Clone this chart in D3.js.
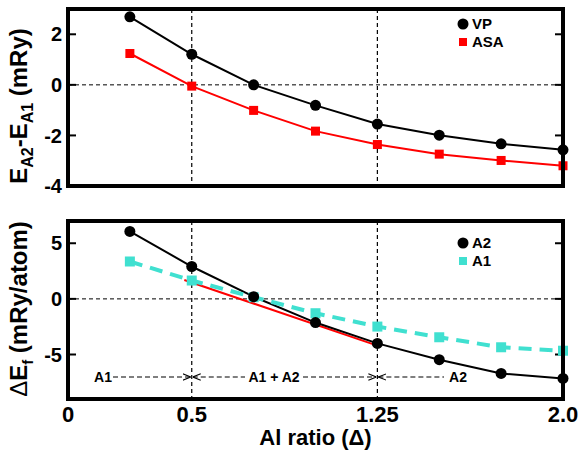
<!DOCTYPE html>
<html><head><meta charset="utf-8">
<script src="https://cdn.jsdelivr.net/npm/d3@7"></script>
<style>body{margin:0;background:#fff}svg{font-family:"Liberation Sans",Arial,sans-serif;font-weight:bold}</style>
</head><body><svg id="c" width="581" height="450"></svg>
<script>
const xs = [0.25,0.5,0.75,1.0,1.25,1.5,1.75,2.0];
const vp  = [2.69,1.21,0.0,-0.81,-1.55,-1.99,-2.33,-2.57];
const asa = [1.24,-0.05,-1.01,-1.83,-2.36,-2.74,-2.99,-3.2];
const a2  = [6.06,2.91,0.2,-2.13,-4.0,-5.47,-6.7,-7.15];
const a1  = [3.36,1.65,0.15,-1.29,-2.49,-3.45,-4.35,-4.66];
const mixX = [0.47,1.25];
const mixY = [1.7,-4.2];
const xTicks = [0,0.5,1.25,2.0];
const xTickLabels = ["0","0.5","1.25","2.0"];
const topTicks = [-4,-2,0,2];
const botTicks = [-5,0,5];
const vlines = [0.5,1.25];

const svg = d3.select("#c");
const x = d3.scaleLinear().domain([0,2]).range([68,563]);
const yT = d3.scaleLinear().domain([-4,3]).range([186,9]);
const yB = d3.scaleLinear().domain([-9,7]).range([399,221]);
const cyan = "#40e0d0";

function panel(y, ticks){
  const g = svg.append("g");
  const [y0,y1] = y.range();
  g.append("line").attr("x1",x(0)).attr("x2",x(2)).attr("y1",y(0)).attr("y2",y(0))
   .attr("stroke","#000").attr("stroke-width",1).attr("stroke-dasharray","4,3");
  vlines.forEach(v=>g.append("line").attr("x1",x(v)).attr("x2",x(v)).attr("y1",y1).attr("y2",y0)
   .attr("stroke","#000").attr("stroke-width",1.2).attr("stroke-dasharray","4,3"));
  ticks.forEach(t=>{
    g.append("line").attr("x1",x(0)).attr("x2",x(0)+8).attr("y1",y(t)).attr("y2",y(t)).attr("stroke","#000").attr("stroke-width",2);
    g.append("line").attr("x1",x(2)).attr("x2",x(2)-8).attr("y1",y(t)).attr("y2",y(t)).attr("stroke","#000").attr("stroke-width",2);
    g.append("text").attr("x",x(0)-6).attr("y",y(t)).attr("dy","0.36em").attr("text-anchor","end")
     .attr("font-size",20).text(t);
  });
  return g;
}
function frame(y){
  const [y0,y1] = y.range();
  svg.append("rect").attr("x",x(0)).attr("y",y1).attr("width",x(2)-x(0)).attr("height",y0-y1)
   .attr("fill","none").attr("stroke","#000").attr("stroke-width",4);
}

// top panel
const gt = panel(yT, topTicks);
const lineT = d3.line().x((d,i)=>x(xs[i])).y(d=>yT(d));
gt.append("path").attr("d",lineT(vp)).attr("fill","none").attr("stroke","#000").attr("stroke-width",2);
gt.append("path").attr("d",lineT(asa)).attr("fill","none").attr("stroke","#f00").attr("stroke-width",2);
gt.selectAll(".vp").data(vp).join("circle").attr("cx",(d,i)=>x(xs[i])).attr("cy",d=>yT(d)).attr("r",5.5).attr("fill","#000");
gt.selectAll(".asa").data(asa).join("rect").attr("x",(d,i)=>x(xs[i])-4.5).attr("y",d=>yT(d)-4.5).attr("width",9).attr("height",9).attr("fill","#f00");
frame(yT);
svg.append("circle").attr("cx",463).attr("cy",24).attr("r",5.5).attr("fill","#000");
svg.append("text").attr("x",472).attr("y",24).attr("dy","0.36em").attr("font-size",15).text("VP");
svg.append("rect").attr("x",459).attr("y",38).attr("width",8).attr("height",8).attr("fill","#f00");
svg.append("text").attr("x",472).attr("y",42).attr("dy","0.36em").attr("font-size",15).text("ASA");

// bottom panel
const gb = panel(yB, botTicks);
const lineB = d3.line().x((d,i)=>x(xs[i])).y(d=>yB(d));
gb.append("path").attr("d",d3.line().x((d,i)=>x(mixX[i])).y(d=>yB(d))(mixY)).attr("fill","none").attr("stroke","#f00").attr("stroke-width",2);
gb.append("path").attr("d",lineB(a2)).attr("fill","none").attr("stroke","#000").attr("stroke-width",2);
gb.append("path").attr("d",lineB(a1)).attr("fill","none").attr("stroke",cyan).attr("stroke-width",4).attr("stroke-dasharray","13,8");
gb.selectAll(".a1").data(a1).join("rect").attr("x",(d,i)=>x(xs[i])-5).attr("y",d=>yB(d)-5).attr("width",10).attr("height",10).attr("fill",cyan);
gb.selectAll(".a2").data(a2).join("circle").attr("cx",(d,i)=>x(xs[i])).attr("cy",d=>yB(d)).attr("r",5.5).attr("fill","#000");
frame(yB);
svg.append("circle").attr("cx",463).attr("cy",243).attr("r",5.5).attr("fill","#000");
svg.append("text").attr("x",472).attr("y",243).attr("dy","0.36em").attr("font-size",15).text("A2");
svg.append("rect").attr("x",459).attr("y",257).attr("width",8).attr("height",8).attr("fill",cyan);
svg.append("text").attr("x",472).attr("y",261).attr("dy","0.36em").attr("font-size",15).text("A1");

// phase annotations
const ay = 377;
svg.append("defs").html('<marker id="ar" viewBox="0 0 10 10" refX="10" refY="5" markerWidth="8" markerHeight="8" orient="auto-start-reverse" markerUnits="userSpaceOnUse"><path d="M0,1 L10,5 L0,9" fill="none" stroke="#000" stroke-width="1.3"/></marker>');
function dline(x1,x2,start,end){
  const l = svg.append("line").attr("x1",x1).attr("x2",x2).attr("y1",ay).attr("y2",ay)
    .attr("stroke","#000").attr("stroke-width",1.2).attr("stroke-dasharray","5,3");
  if(start) l.attr("marker-start","url(#ar)");
  if(end) l.attr("marker-end","url(#ar)");
}
function alabel(xp,t){svg.append("text").attr("x",xp).attr("y",ay).attr("dy","0.36em").attr("text-anchor","middle").attr("font-size",14).text(t);}
alabel(103,"A1"); dline(113,x(0.5)-1,false,true);
dline(x(0.5)+1,245,true,false); alabel(274,"A1 + A2"); dline(303,x(1.25)-1,false,true);
dline(x(1.25)+1,444,true,false); alabel(458,"A2");

// x axis labels
xTicks.forEach((t,i)=>svg.append("text").attr("x",x(t)).attr("y",414).attr("dy","0.36em").attr("text-anchor","middle").attr("font-size",22).text(xTickLabels[i]));
svg.append("text").attr("x",x(1)).attr("y",445).attr("text-anchor","middle").attr("font-size",22).text("Al ratio (\u0394)");

// y labels
const t1 = svg.append("text").attr("transform","translate(27,106) rotate(-90)").attr("text-anchor","middle").attr("font-size",24);
t1.append("tspan").text("E");
t1.append("tspan").attr("font-size",16).attr("dy",6).text("A2");
t1.append("tspan").attr("dy",-6).text("-E");
t1.append("tspan").attr("font-size",16).attr("dy",6).text("A1");
t1.append("tspan").attr("dy",-6).text(" (mRy)");
const t2 = svg.append("text").attr("transform","translate(27,309) rotate(-90)").attr("text-anchor","middle").attr("font-size",24);
t2.append("tspan").attr("font-weight","normal").text("\u0394");
t2.append("tspan").text("E");
t2.append("tspan").attr("font-size",15).attr("dy",6).text("f");
t2.append("tspan").attr("dy",-6).text(" (mRy/atom)");
</script></body></html>
